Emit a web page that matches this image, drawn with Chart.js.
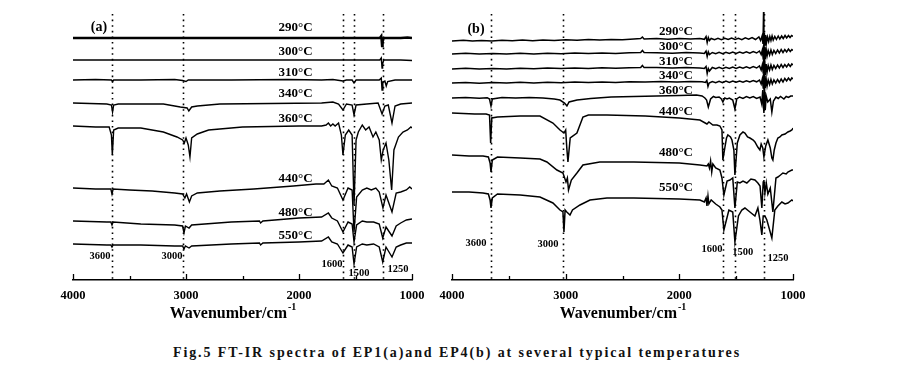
<!DOCTYPE html>
<html><head><meta charset="utf-8">
<script src="https://cdn.jsdelivr.net/npm/chart.js@4/dist/chart.umd.min.js"></script>
<style>
html,body{margin:0;padding:0;background:#fff;width:903px;height:373px;overflow:hidden;position:relative}
canvas{position:absolute;top:0}
#caption{position:absolute;left:0;top:345px;width:914px;text-align:center;font:bold 14px "Liberation Serif",serif;letter-spacing:1.9px;color:#111;white-space:nowrap}
</style></head><body>
<canvas id="panelA" width="440" height="340" style="left:0"></canvas>
<canvas id="panelB" width="483" height="340" style="left:420px"></canvas>
<div id="caption">Fig.5 FT-IR spectra of EP1(a)and EP4(b) at several typical temperatures</div>
<script>
// ---- data: [wavenumber, offset transmittance (a.u.)] ----
const TEMPS=["290°C","300°C","310°C","340°C","360°C","440°C","480°C","550°C"];

// EP1 (a)
const A290=[[4000,240],[3500,240],[3000,240],[2500,240],[2000,240],[1700,240],[1400,240],[1285,240],[1272,242],[1265,232],[1260,236],[1250,240],[1100,240],[1040,240.5],[1000,240]];
const A300=[[4000,218],[3500,218],[3000,218],[2500,218],[2000,218],[1700,218],[1400,218],[1285,218],[1272,220],[1265,210],[1260,214],[1250,218],[1100,218],[1000,217.5]];
const A310=[[4000,198],[3800,198.5],[3660,198],[3650,196.5],[3640,198],[3400,198],[3100,198.5],[3030,197.5],[3000,196.5],[2980,198],[2600,198],[2100,198.5],[1800,198],[1700,198.5],[1611,197],[1580,198],[1530,198],[1513,195],[1495,198],[1400,198],[1290,198],[1272,200],[1265,188],[1258,196],[1240,197],[1228,192],[1215,196.5],[1150,198],[1000,198]];
const A340=[[4000,175],[3700,174],[3660,173],[3650,166],[3640,173],[3600,174],[3200,174],[3050,171],[2990,170],[2975,167],[2950,171],[2900,172],[2700,174],[1800,175],[1700,176],[1650,174],[1611,168],[1580,174],[1530,173],[1513,163],[1495,173],[1400,174],[1300,175],[1265,164],[1240,172],[1210,173],[1177,155],[1150,172],[1100,174],[1000,175]];
const A360=[[4000,152],[3800,151],[3680,151],[3660,143],[3652,123],[3640,148],[3600,150],[3400,150],[3200,146],[3080,141],[3030,138],[3015,135],[3000,140],[2980,133],[2965,121],[2950,140],[2900,144],[2800,148],[2500,151],[2000,152],[1800,152],[1760,153],[1740,155],[1720,152],[1700,154],[1680,152],[1650,155],[1625,143],[1611,123],[1590,143],[1560,148],[1530,143],[1513,73],[1495,138],[1475,146],[1440,153],[1410,148],[1380,151],[1345,141],[1320,146],[1290,138],[1272,118],[1255,128],[1230,135],[1205,118],[1180,88],[1160,128],[1120,141],[1080,146],[1040,148],[1010,151],[1000,150]];
const A440=[[4000,90],[3800,89],[3665,89],[3655,84],[3645,89],[3500,88],[3300,87],[3100,85],[3030,84],[3010,80],[2995,84],[2970,76],[2950,82],[2900,85],[2700,87],[2400,89],[2050,92],[1850,94],[1780,94],[1740,98],[1710,92],[1660,90],[1611,78],[1566,90],[1530,88],[1513,46],[1490,81],[1440,88],[1400,90],[1360,88],[1320,90],[1290,86],[1257,70],[1230,83],[1177,66],[1140,85],[1100,86],[1050,88],[1020,91],[1000,89]];
const A480=[[4000,57],[3700,56],[3665,56],[3655,53],[3645,56],[3400,54],[3100,53],[3030,52],[3018,45],[3005,52],[2973,50],[2950,53],[2600,56],[2350,57],[2340,55],[2320,57],[2000,60],[1800,61],[1740,65],[1710,60],[1660,57],[1611,46],[1566,56],[1530,54],[1513,36],[1490,53],[1440,57],[1400,56],[1340,56],[1290,54],[1259,40],[1230,51],[1177,42],[1140,52],[1100,55],[1050,58],[1000,59]];
const A550=[[4000,34],[3700,33],[3665,33],[3655,31],[3645,33],[3400,33],[3100,32],[3030,32],[3018,29],[3005,32],[2973,30],[2950,32],[2600,34],[2350,35],[2340,33],[2320,35],[2000,36],[1800,37],[1740,41],[1710,36],[1660,34],[1611,25],[1566,33],[1530,31],[1513,14],[1490,31],[1440,34],[1400,33],[1340,34],[1290,31],[1259,16],[1230,31],[1177,21],[1140,31],[1100,33],[1050,35],[1000,35]];

// EP4 (b)
const B290=[[4000,237],[3900,237.8],[3820,236.9],[3740,237.6],[3650,237],[3560,237.8],[3470,237.2],[3380,237.9],[3290,237.3],[3200,238],[3100,237.5],[3000,238.2],[2900,237.7],[2800,238.4],[2700,238],[2600,238.6],[2500,238.3],[2400,239],[2340,239.5],[2325,241],[2310,239],[2200,239.4],[2100,238.8],[2000,239.5],[1900,239],[1820,239.6],[1780,238.7],[1765,241.5],[1755,235.5],[1745,240.5],[1735,237.5],[1720,239.5],[1690,238.2],[1660,239.6],[1630,238.4],[1600,239.8],[1570,238.5],[1540,240],[1510,238.6],[1480,239.8],[1450,238.4],[1420,240.2],[1390,238.8],[1360,240.5],[1330,238.5],[1300,241],[1285,237.5],[1272,242],[1264,234],[1259,266],[1256,226],[1252,245],[1246,233],[1240,243],[1232,236],[1224,241],[1214,236.5],[1204,241.5],[1194,237.5],[1184,242],[1174,238],[1160,241.5],[1146,238.5],[1130,242],[1116,239],[1100,242],[1086,239.5],[1070,242.5],[1056,240],[1040,242.5],[1026,240.5],[1012,242.5],[1000,241.5]];
const B300=[[4000,224],[3880,224.7],[3760,223.9],[3640,224.6],[3520,224],[3400,224.7],[3280,224.1],[3160,224.8],[3040,224.3],[2920,225],[2800,224.4],[2680,225.1],[2560,224.6],[2440,225.2],[2340,225.6],[2325,227.5],[2310,225.5],[2200,225.3],[2060,224.8],[1940,225.4],[1820,225],[1780,224.6],[1765,227],[1755,221.5],[1745,226.2],[1735,223.5],[1710,225.5],[1680,224.2],[1650,225.6],[1620,224.4],[1590,225.8],[1560,224.5],[1530,226],[1500,224.6],[1470,225.9],[1440,224.7],[1410,226.2],[1380,224.8],[1350,226.4],[1320,225],[1295,227],[1280,223.5],[1270,228],[1262,219],[1258,233],[1254,213],[1250,231],[1244,219],[1236,229],[1228,222],[1218,227.5],[1206,223],[1194,228],[1182,223.5],[1168,227.5],[1152,224.5],[1136,228],[1120,225],[1104,228.5],[1088,225.5],[1072,228.5],[1056,226],[1040,229],[1024,226.5],[1010,228.5],[1000,227.5]];
const B310=[[4000,209],[3880,209.7],[3760,208.9],[3640,209.6],[3520,209],[3400,209.8],[3280,209.2],[3160,209.9],[3040,209.4],[2920,210.1],[2800,209.5],[2680,210.2],[2560,209.7],[2440,210.3],[2340,210.6],[2325,212.5],[2310,210.4],[2200,210.4],[2060,209.9],[1940,210.5],[1820,210.1],[1780,209.5],[1765,211.5],[1755,204.5],[1745,209.5],[1735,207],[1710,210.5],[1680,209.2],[1650,210.6],[1620,209.3],[1590,210.8],[1560,209.5],[1530,211],[1500,209.6],[1470,210.9],[1440,209.7],[1410,211.2],[1380,209.8],[1350,211.4],[1320,210],[1295,212],[1280,208],[1270,213],[1262,205],[1258,218],[1254,197],[1250,217],[1244,203],[1236,214],[1228,206],[1218,212.5],[1206,208],[1194,213],[1182,208.5],[1168,212.5],[1152,209.5],[1136,213],[1120,210],[1104,213.5],[1088,210.5],[1072,213.5],[1056,211],[1040,214],[1024,211.5],[1010,214],[1000,213]];
const B340=[[4000,195],[3880,195.6],[3760,194.8],[3640,195.5],[3520,195],[3400,195.7],[3280,195.1],[3160,195.8],[3040,195.3],[2920,196],[2800,195.5],[2680,196.1],[2560,195.6],[2440,196.2],[2300,196],[2160,196.5],[2020,196],[1900,196.6],[1800,196.2],[1770,195.5],[1758,197.5],[1748,191.5],[1738,195],[1710,196.5],[1680,195.3],[1650,196.7],[1620,195.4],[1590,196.9],[1560,195.6],[1530,197],[1500,195.7],[1470,197],[1440,195.8],[1410,197.3],[1380,196],[1350,197.5],[1320,196.2],[1295,198],[1280,194],[1270,199],[1262,190],[1258,204],[1254,184],[1250,202],[1244,190],[1236,199],[1228,192],[1218,198],[1206,193.5],[1194,198.5],[1182,194],[1168,198],[1152,195],[1136,198.5],[1120,195.5],[1104,199],[1088,196],[1072,199.5],[1056,197],[1040,200],[1024,197.5],[1010,200],[1000,199]];
const B360=[[4000,180],[3880,180.6],[3760,179.8],[3690,180.3],[3670,179],[3657,172],[3645,179],[3560,180.5],[3440,179.9],[3320,180.6],[3200,180],[3100,179],[3050,178],[3010,175],[2989,172],[2970,176],[2900,178],[2780,179.5],[2600,181],[2400,181.5],[2200,182],[2000,182.5],[1850,183],[1800,182],[1775,180],[1760,178],[1745,171],[1725,179],[1700,181.5],[1680,180.5],[1650,181],[1630,179],[1617,176],[1600,180],[1580,179],[1560,180],[1530,178],[1511,169],[1495,179],[1470,181],[1440,179.5],[1410,181.5],[1380,180],[1350,181.5],[1320,179.5],[1290,181],[1275,174],[1266,188],[1260,172],[1256,165],[1250,186],[1244,168],[1236,182],[1222,176],[1200,179],[1186,166],[1172,177],[1150,181],[1130,179.5],[1110,181.5],[1080,179],[1060,181.5],[1040,180.5],[1020,182],[1000,182]];
const B440=[[4000,165],[3900,164.4],[3800,164],[3700,164],[3670,163],[3660,135],[3650,160],[3600,161],[3400,162],[3226,162],[3112,155],[3050,148],[3015,145],[3000,148],[2990,130],[2980,116],[2960,140],[2901,145],[2848,161],[2800,163],[2637,163],[2300,162],[2000,160],[1819,158],[1757,154],[1740,156],[1705,153],[1669,153],[1643,152],[1625,148],[1617,118],[1600,130],[1585,140],[1573,143],[1550,141],[1537,138],[1520,128],[1511,103],[1490,135],[1467,143],[1440,146],[1423,145],[1400,141],[1379,140],[1350,138],[1335,136],[1310,131],[1291,128],[1280,134],[1266,130],[1256,121],[1240,132],[1221,138],[1200,130],[1186,120],[1177,118],[1165,128],[1150,135],[1133,140],[1115,141],[1098,143],[1070,144],[1045,146],[1025,147],[1010,148],[1000,150]];
const B480=[[4000,123],[3850,122],[3727,122],[3680,121],[3665,115],[3657,106],[3645,118],[3600,121],[3400,120],[3226,119],[3165,116],[3077,108],[3024,105],[2997,96],[2985,100],[2975,88],[2950,98],[2901,105],[2848,113],[2700,116],[2400,116],[2000,115],[1819,113],[1757,112],[1745,114],[1735,110],[1725,117],[1715,106],[1705,114],[1680,110],[1643,108],[1625,100],[1608,83],[1580,97],[1555,98],[1530,100],[1511,70],[1490,96],[1467,95],[1440,97],[1406,95],[1370,99],[1335,98],[1309,95],[1290,92],[1274,70],[1262,96],[1256,98],[1247,85],[1235,95],[1221,84],[1200,90],[1177,66],[1150,100],[1133,101],[1110,103],[1089,105],[1060,104],[1045,106],[1010,108],[1000,108]];
const B550=[[4000,86],[3850,86],[3727,85],[3680,84],[3665,78],[3657,70],[3645,80],[3600,84],[3400,83],[3226,81],[3112,75],[3050,68],[3024,66],[3015,46],[3005,68],[2990,66],[2962,63],[2940,68],[2874,73],[2786,78],[2637,80],[2400,80],[2000,79],[1819,78],[1780,76],[1765,80],[1757,72],[1748,82],[1740,74],[1720,78],[1680,74],[1643,71],[1625,68],[1608,48],[1564,68],[1530,66],[1511,36],[1480,62],[1450,68],[1423,70],[1379,66],[1335,62],[1309,70],[1291,58],[1274,43],[1262,62],[1247,62],[1230,58],[1186,40],[1160,68],[1133,72],[1098,76],[1070,74],[1045,75],[1010,78],[1000,77]];

// guide lines, peak captions and curve captions
const A_MARKS=[3655,3027,1611,1513,1259];
const B_MARKS=[3660,3026,1619,1514,1256];
const PEAK_TEXT=["3600","3000","1600","1500","1250"];
const A_PEAK_AT=[[3761,22],[3124,22],[1708,14],[1469,5],[1124,9]];
const B_PEAK_AT=[[3789,35],[3156,34],[1713,29],[1441,26],[1133,20]];
const A_LABEL_Y=[250,226,205,184,159,99,65,42];
const B_LABEL_Y=[246,231,216,202,187,166,125,90];
const LABEL_WN=2030;

const SERIF='"Liberation Serif","Times New Roman",serif';

const deco={id:"deco",
  afterDatasetsDraw(chart,args,o){
    const {ctx,chartArea:ca,scales:{x,y}}=chart;
    ctx.save();
    ctx.strokeStyle="#000"; ctx.fillStyle="#000";
    // dotted guides
    ctx.lineWidth=1.6; ctx.setLineDash([1.6,4]);
    o.marks.forEach(w=>{const px=Math.round(x.getPixelForValue(w))+0.5;
      ctx.beginPath(); ctx.moveTo(px,ca.top+2); ctx.lineTo(px,ca.bottom); ctx.stroke();});
    ctx.setLineDash([]);
    // inward ticks on the axis
    ctx.lineWidth=1.3;
    for(let w=1000;w<=4000;w+=500){
      const px=Math.round(x.getPixelForValue(w))+0.5, len=(w%1000)?4:6;
      ctx.beginPath(); ctx.moveTo(px,ca.bottom); ctx.lineTo(px,ca.bottom-len); ctx.stroke();
    }
    ctx.textAlign="center"; ctx.textBaseline="middle";
    ctx.font="bold 13px "+SERIF;
    TEMPS.forEach((t,i)=>ctx.fillText(t,x.getPixelForValue(LABEL_WN),y.getPixelForValue(o.labelY[i])));
    ctx.font="bold 10.5px "+SERIF;
    PEAK_TEXT.forEach((t,i)=>ctx.fillText(t,x.getPixelForValue(o.peaks[i][0]),y.getPixelForValue(o.peaks[i][1])));
    ctx.font="bold 14px "+SERIF;
    ctx.fillText(o.tag,x.getPixelForValue(o.tagAt[0]),y.getPixelForValue(o.tagAt[1]));
    // axis title with superscript
    ctx.textAlign="left"; ctx.textBaseline="alphabetic";
    ctx.font="bold 16px "+SERIF; const main="Wavenumber/cm", w1=ctx.measureText(main).width;
    ctx.font="bold 10px "+SERIF; const w2=ctx.measureText("-1").width;
    const x0=(ca.left+ca.right)/2+o.titleShift-(w1+w2)/2, yb=ca.bottom+38;
    ctx.font="bold 16px "+SERIF; ctx.fillText(main,x0,yb);
    ctx.font="bold 10px "+SERIF; ctx.fillText("-1",x0+w1+1,yb-8);
    ctx.restore();
  }};

function panel(id,series,widths,pad,deco_opts){
  const datasets=series.map((s,i)=>({label:TEMPS[i],data:s.map(p=>({x:p[0],y:p[1]})),
    borderColor:"#000",borderWidth:widths[i],pointRadius:0,tension:0,fill:false}));
  return new Chart(document.getElementById(id).getContext("2d"),{type:"line",data:{datasets},
    options:{animation:false,responsive:false,devicePixelRatio:1,
      layout:{padding:pad},
      plugins:{legend:{display:false},tooltip:{enabled:false},deco:deco_opts},
      scales:{
        x:{type:"linear",min:1000,max:4000,reverse:true,
          afterFit:s=>{s.height=60;},
          grid:{display:false},border:{display:true,color:"#000",width:1.5},
          ticks:{stepSize:1000,padding:0,color:"#000",font:{family:SERIF,weight:"bold",size:12.5},callback:v=>String(v)}},
        y:{display:false,min:-2,max:266}}}
    ,plugins:[deco]});
}

panel("panelA",[A290,A300,A310,A340,A360,A440,A480,A550],[2.4,1.4,1.4,1.4,1.4,1.4,1.4,1.4],
  {left:73,right:28,top:12,bottom:0},
  {marks:A_MARKS,peaks:A_PEAK_AT,labelY:A_LABEL_Y,tag:"(a)",tagAt:[3770,251],titleShift:-10});
panel("panelB",[B290,B300,B310,B340,B360,B440,B480,B550],[1.5,1.5,1.5,1.5,1.5,1.5,1.5,1.5],
  {left:32,right:110,top:12,bottom:0},
  {marks:B_MARKS,peaks:B_PEAK_AT,labelY:B_LABEL_Y,tag:"(b)",tagAt:[3789,249],titleShift:0});
</script>
</body></html>
